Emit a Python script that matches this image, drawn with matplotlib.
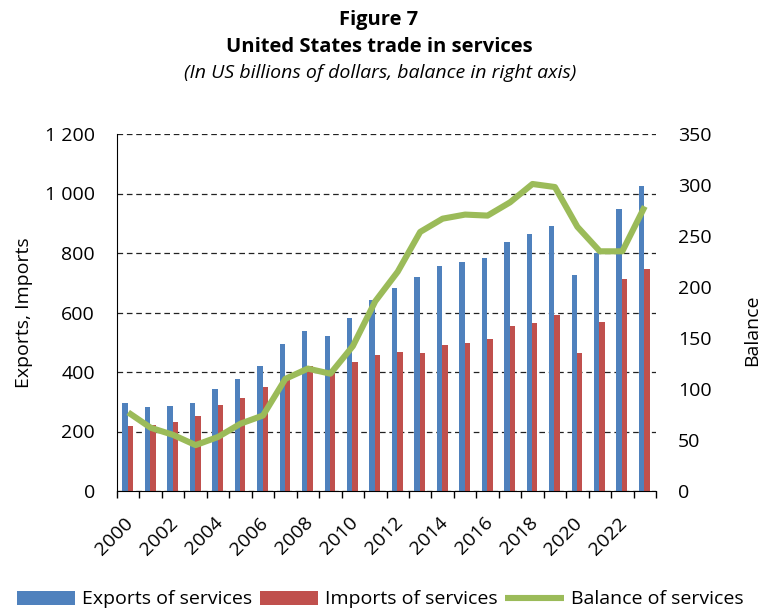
import matplotlib
matplotlib.use("Agg")
import matplotlib.pyplot as plt
import matplotlib.ticker as ticker
import numpy as np

# US trade in services, billions of dollars
years = list(range(2000, 2024))
exports = [296, 282, 286, 296, 343, 376, 421, 494, 539, 521, 580, 643,
           683, 719, 756, 769, 782, 836, 864, 890, 725, 800, 947, 1025]
imports = [220, 222, 232, 251, 289, 311, 348, 375, 420, 400, 435, 457,
           468, 464, 490, 496, 511, 553, 564, 592, 465, 568, 712, 746]
balance = [77, 62, 55, 45, 53, 66, 74, 110, 120, 115, 142, 186,
           215, 254, 267, 271, 270, 283, 301, 298, 259, 235, 235, 279]

left_ticks = [0, 200, 400, 600, 800, 1000, 1200]
right_ticks = [0, 50, 100, 150, 200, 250, 300, 350]

BLUE = "#4F81BD"
RED = "#C0504D"
GREEN = "#9BBB59"
FONT = ["Open Sans", "DejaVu Sans"]

plt.rcParams["font.family"] = FONT

W, H = 764, 611
fig = plt.figure(figsize=(W / 100, H / 100), dpi=100)
fig.patch.set_facecolor("white")

ax = fig.add_axes([117 / W, 120 / H, 539 / W, 357 / H])
ax2 = ax.twinx()

x = np.arange(len(years))
bw = 0.24
ax.bar(x - bw / 2 - 0.02, exports, width=bw, color=BLUE, label="Exports of services", zorder=2)
ax.bar(x + bw / 2 - 0.02, imports, width=bw, color=RED, label="Imports of services", zorder=2)
ax2.plot(x, balance, color=GREEN, lw=4.4, solid_joinstyle="round", solid_capstyle="butt",
         label="Balance of services")

ax.set_xlim(-0.5, len(years) - 0.5)
ax.set_ylim(0, 1200)
ax2.set_ylim(0, 350)

# dashed horizontal gridlines behind the bars
ax.set_axisbelow(True)
ax.set_yticks(left_ticks)
ax.yaxis.grid(True, color="#222222", linestyle=(0, (4.5, 3)), linewidth=0.9)
ax.yaxis.set_major_formatter(ticker.FuncFormatter(lambda v, _: f"{int(v):,}".replace(",", " ")))
ax.tick_params(axis="y", length=0, pad=16, labelsize=14)

ax2.set_yticks(right_ticks)
ax2.tick_params(axis="y", length=0, pad=16, labelsize=14)

# year labels every two years, boundary tick marks between categories
ax.set_xticks(x[::2] + 0.1)
ax.set_xticklabels([str(y) for y in years[::2]], rotation=45, ha="right", va="center",
                   rotation_mode="anchor", fontsize=14)
ax.set_xticks(np.arange(-0.5, len(years)), minor=True)
ax.tick_params(axis="x", which="major", length=0, pad=21)
ax.tick_params(axis="x", which="minor", length=5, width=1, direction="out", color="black")

for a in (ax, ax2):
    a.spines["top"].set_visible(False)
    a.spines["right"].set_visible(False)
ax2.spines["left"].set_visible(False)
ax2.spines["bottom"].set_visible(False)
ax.spines["left"].set_color("black")
ax.spines["bottom"].set_color("black")

ax.set_ylabel("Exports, Imports", fontsize=14, va="center")
ax.yaxis.set_label_coords(-0.1725, 0.5)
ax2.set_ylabel("Balance", fontsize=14, va="center", rotation=90)
ax2.yaxis.set_label_coords(1.178, 0.451)

# three-line heading
fig.text(379 / W, 1 - 25 / H, "Figure 7", ha="center", va="baseline",
         fontsize=14.5, fontweight="bold")
fig.text(379 / W, 1 - 52 / H, "United States trade in services", ha="center", va="baseline",
         fontsize=14.5, fontweight="bold")
fig.text(380 / W, 1 - 78 / H, "(In US billions of dollars, balance in right axis)", ha="center",
         va="baseline", fontsize=14, style="italic")

h1, l1 = ax.get_legend_handles_labels()
h2, l2 = ax2.get_legend_handles_labels()
fig.legend(h1 + h2, l1 + l2, loc="center", bbox_to_anchor=(380 / W, 1 - 599.5 / H), ncol=3,
           frameon=False, fontsize=14, handlelength=3.0, handleheight=0.7,
           handletextpad=0.35, columnspacing=0.4, borderpad=0)

fig.savefig("out.png", dpi=100, facecolor="white")
